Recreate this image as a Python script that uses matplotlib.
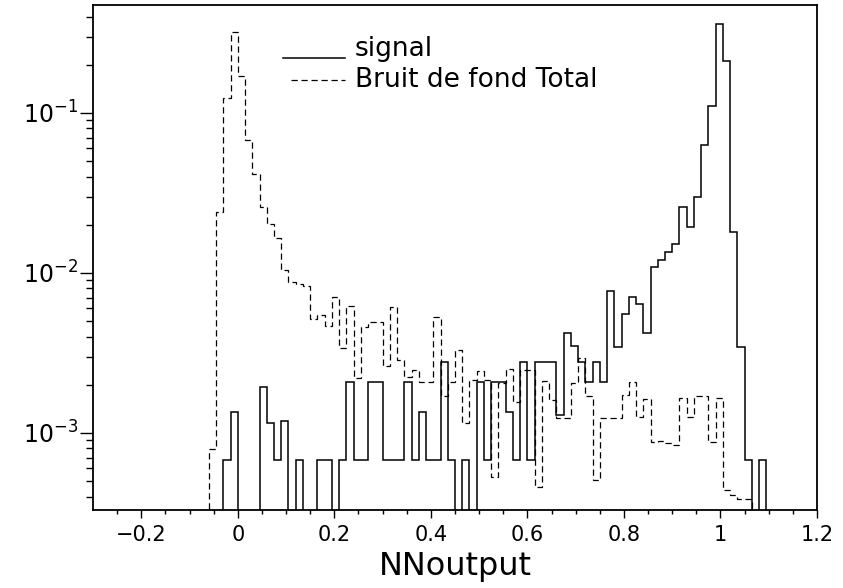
import numpy as np
import matplotlib
matplotlib.use('Agg')
import matplotlib.pyplot as plt
from matplotlib.ticker import FixedLocator, LogLocator, NullFormatter, FuncFormatter

# histogram binning: 100 bins from -0.3 to 1.2
bin_lo, bin_hi, n_bins = -0.3, 1.2, 100

# signal, bins from x=-0.03 up to x=1.11, zeros elsewhere
signal = [0] * 18 + [
    6.8e-4, 1.36e-3, 0, 0, 0, 1.95e-3, 1.15e-3, 6.8e-4, 1.19e-3, 0,
    6.8e-4, 0, 0, 6.8e-4, 6.8e-4, 0, 6.8e-4, 2.09e-3, 6.8e-4, 6.8e-4,
    2.07e-3, 2.07e-3, 6.8e-4, 6.8e-4, 6.8e-4, 2.07e-3, 6.8e-4, 1.36e-3, 6.8e-4, 6.8e-4,
    2.79e-3, 6.8e-4, 0, 6.8e-4, 0, 2.07e-3, 6.8e-4, 2.07e-3, 2.07e-3, 1.36e-3,
    6.8e-4, 2.79e-3, 6.8e-4, 2.79e-3, 2.79e-3, 2.79e-3, 1.30e-3, 4.2e-3, 3.5e-3, 2.79e-3,
    2.09e-3, 2.79e-3, 2.09e-3, 7.75e-3, 3.46e-3, 5.54e-3, 7.11e-3, 6.40e-3, 4.23e-3, 1.085e-2,
    1.206e-2, 1.358e-2, 1.511e-2, 2.574e-2, 1.93e-2, 3.0e-2, 6.31e-2, 0.1106, 0.36, 0.211,
    1.81e-2, 3.46e-3, 6.8e-4, 0, 6.8e-4] + [0] * 7

# total background, bins from x=-0.06 up to x=1.065
background = [0] * 16 + [
    7.91e-4, 2.395e-2, 0.1246, 0.322, 0.170, 6.78e-2, 4.16e-2, 2.585e-2, 2.02e-2, 1.648e-2,
    1.045e-2, 8.79e-3, 8.54e-3, 8.30e-3, 5.16e-3, 5.46e-3, 4.67e-3, 7.03e-3, 3.40e-3, 6.22e-3,
    2.21e-3, 4.60e-3, 4.94e-3, 4.94e-3, 2.62e-3, 6.16e-3, 2.86e-3, 2.24e-3, 2.48e-3, 2.09e-3,
    2.09e-3, 5.33e-3, 1.69e-3, 2.09e-3, 3.30e-3, 1.155e-3, 2.14e-3, 2.44e-3, 2.14e-3, 5.33e-4,
    2.05e-3, 2.51e-3, 1.57e-3, 2.48e-3, 2.48e-3, 4.58e-4, 2.12e-3, 1.61e-3, 1.24e-3, 1.24e-3,
    2.05e-3, 2.93e-3, 1.69e-3, 5.09e-4, 1.24e-3, 1.24e-3, 1.24e-3, 1.73e-3, 2.09e-3, 1.26e-3,
    1.62e-3, 8.83e-4, 8.95e-4, 8.66e-4, 8.41e-4, 1.65e-3, 1.26e-3, 1.69e-3, 1.69e-3, 8.83e-4,
    1.65e-3, 4.41e-4, 4.10e-4, 3.86e-4, 3.86e-4] + [0] * 9

labels = ['signal', 'Bruit de fond Total']
x_label = 'NNoutput'
x_ticks = [-0.2, 0, 0.2, 0.4, 0.6, 0.8, 1, 1.2]
y_ticks = [1e-3, 1e-2, 1e-1]


def fmt_x(v, pos):
    s = '%g' % v
    return s.replace('-', '\u2212')


def fmt_y(v, pos):
    return r'$10^{%d}$' % int(round(np.log10(v)))


plt.rcParams['font.family'] = ['DejaVu Sans']
plt.rcParams['mathtext.default'] = 'regular'

fig = plt.figure(figsize=(8.43, 5.88), dpi=100)
ax = fig.add_axes([0.1103, 0.1327, 0.8589, 0.8588])

edges = np.linspace(bin_lo, bin_hi, n_bins + 1)
floor = 1e-9  # empty bins drop below the axis
sig = np.where(np.array(signal) > 0, signal, floor)
bkg = np.where(np.array(background) > 0, background, floor)

ax.stairs(sig, edges, color='black', linewidth=1.1, baseline=None)
ax.stairs(bkg, edges, color='black', linewidth=0.9, baseline=None,
          linestyle=(0, (5, 3)))

ax.set_yscale('log')
ax.set_xlim(-0.3, 1.2)
ax.set_ylim(3.3e-4, 0.473)

ax.xaxis.set_major_locator(FixedLocator(x_ticks))
ax.xaxis.set_minor_locator(FixedLocator(np.arange(-0.25, 1.2, 0.05)))
ax.xaxis.set_major_formatter(FuncFormatter(fmt_x))
ax.yaxis.set_major_locator(FixedLocator(y_ticks))
ax.yaxis.set_minor_locator(LogLocator(base=10, subs=np.arange(2, 10)))
ax.yaxis.set_major_formatter(FuncFormatter(fmt_y))
ax.yaxis.set_minor_formatter(NullFormatter())

ax.tick_params(axis='x', which='major', direction='out', length=6, width=1.0,
               labelsize=15, pad=5, top=False)
ax.tick_params(axis='x', which='minor', direction='out', length=3, width=1.0, top=False)
ax.tick_params(axis='y', which='major', direction='out', length=9.5, width=1.0,
               labelsize=17, pad=1, right=False)
ax.tick_params(axis='y', which='minor', direction='out', length=5, width=1.0, right=False)
for sp in ax.spines.values():
    sp.set_linewidth(1.3)

ax.set_xlabel(x_label, fontsize=23, labelpad=4)

# legend drawn by hand, PAW style
ax.plot([0.262, 0.348], [0.895, 0.895], transform=ax.transAxes, color='black', linewidth=1.1)
ax.plot([0.273, 0.348], [0.851, 0.851], transform=ax.transAxes, color='black', linewidth=0.9,
        linestyle=(0, (5, 3)))
ax.text(0.362, 0.913, labels[0], transform=ax.transAxes, fontsize=19, va='center', ha='left')
ax.text(0.362, 0.852, labels[1], transform=ax.transAxes, fontsize=19, va='center', ha='left')

fig.savefig('out.png', dpi=100)
